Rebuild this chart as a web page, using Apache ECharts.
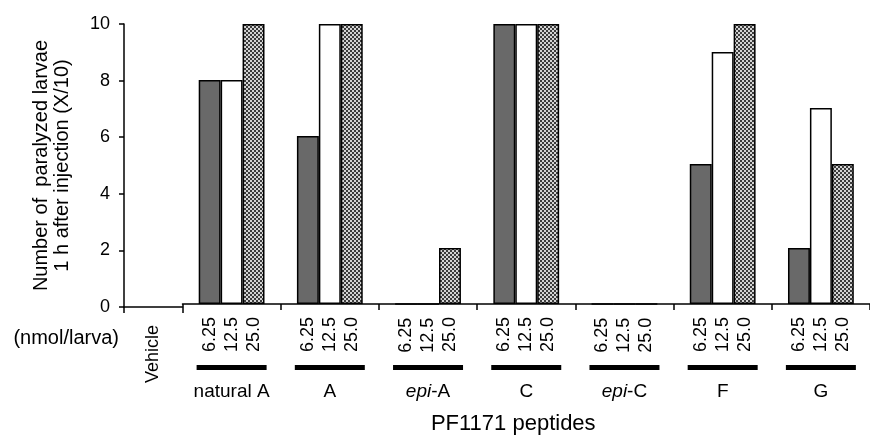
<!DOCTYPE html>
<html>
<head>
<meta charset="utf-8">
<script src="https://cdn.jsdelivr.net/npm/echarts@6/dist/echarts.min.js"></script>
<style>
  html, body { margin: 0; padding: 0; background: #fff; }
  #chart { width: 870px; height: 440px; }
</style>
</head>
<body>
<div id="chart"></div>
<script>
// 数据
let groups = ['natural A', 'A', 'epi-A', 'C', 'epi-C', 'F', 'G']
let doses = ['6.25', '12.5', '25.0']
let dose625 = [8, 6, 0, 10, 0, 5, 2]
let dose125 = [8, 10, 0, 10, 0, 9, 7]
let dose250 = [10, 10, 2, 10, 0, 10, 5]
let yTicks = [0, 2, 4, 6, 8, 10]

let font = 'Liberation Sans, Arial, Helvetica, sans-serif'

// 网格填充（25.0 的那组）
function makeHatch() {
  let c = document.createElement('canvas')
  c.width = 4
  c.height = 4
  let ctx = c.getContext('2d')
  ctx.fillStyle = '#d4d4d4'
  ctx.fillRect(0, 0, 4, 4)
  ctx.fillStyle = '#3c3c3c'
  ctx.fillRect(0, 0, 2, 2)
  ctx.fillRect(2, 2, 2, 2)
  return c
}
let hatch = { image: makeHatch(), repeat: 'repeat' }

function doseSeries(name, data, color) {
  return {
    name: name,
    type: 'bar',
    xAxisIndex: 1,
    yAxisIndex: 1,
    barGap: '0%',
    barCategoryGap: '33%',
    itemStyle: { color: color, borderColor: '#000', borderWidth: 1.5 },
    label: {
      show: true,
      position: 'bottom',
      distance: 13,
      rotate: 90,
      align: 'right',
      verticalAlign: 'middle',
      formatter: name,
      fontFamily: font,
      fontSize: 18,
      color: '#000'
    },
    data: data
  }
}

let axisLine = { show: true, lineStyle: { color: '#000', width: 1.5 } }
let axisTick = { show: true, length: 6, lineStyle: { color: '#000', width: 1.5 } }

let option = {
  animation: false,
  grid: [
    { left: 124, top: 24, width: 58.5, height: 283 },
    { left: 182.5, top: 24, width: 696.5, height: 283 }
  ],
  xAxis: [
    {
      gridIndex: 0,
      type: 'category',
      data: ['Vehicle'],
      axisLine: axisLine,
      axisTick: axisTick,
      axisLabel: { rotate: 90, margin: 18, fontFamily: font, fontSize: 18, color: '#000' }
    },
    {
      gridIndex: 1,
      type: 'category',
      data: groups,
      axisLine: axisLine,
      axisTick: axisTick,
      axisLabel: {
        margin: 61,
        interval: 0,
        formatter: function (v) {
          let txt = v.indexOf('epi-') === 0 ? '{i|epi}{t|' + v.slice(3) + '}' : '{t|' + v + '}'
          return '{bar| }\n' + txt
        },
        rich: {
          bar: { width: 70, height: 5, lineHeight: 5, backgroundColor: '#000' },
          t: { fontFamily: font, fontSize: 19, lineHeight: 44, color: '#000' },
          i: { fontFamily: font, fontSize: 19, lineHeight: 44, fontStyle: 'italic', color: '#000' }
        }
      },
      name: 'PF1171 peptides',
      nameLocation: 'middle',
      nameGap: 109,
      nameTextStyle: { fontFamily: font, fontSize: 22, color: '#000', padding: [0, 26, 0, 0] }
    }
  ],
  yAxis: [
    {
      gridIndex: 0,
      type: 'value',
      min: yTicks[0],
      max: yTicks[yTicks.length - 1],
      interval: yTicks[1] - yTicks[0],
      axisLine: axisLine,
      axisTick: { show: true, length: 5, lineStyle: { color: '#000', width: 1.5 } },
      splitLine: { show: false },
      axisLabel: { margin: 14, fontFamily: font, fontSize: 18, color: '#000' },
      name: 'Number of  paralyzed larvae\n1 h after injection (X/10)',
      nameLocation: 'middle',
      nameRotate: 90,
      nameGap: 51,
      nameTextStyle: { fontFamily: font, fontSize: 20, lineHeight: 21, color: '#000' }
    },
    {
      gridIndex: 1,
      type: 'value',
      min: yTicks[0],
      max: yTicks[yTicks.length - 1],
      interval: yTicks[1] - yTicks[0],
      show: false
    }
  ],
  graphic: [
    {
      type: 'text',
      x: 119,
      y: 338,
      style: {
        text: '(nmol/larva)',
        font: '20px ' + font,
        fill: '#000',
        align: 'right',
        verticalAlign: 'middle',
        textAlign: 'right',
        textVerticalAlign: 'middle'
      }
    }
  ],
  series: [
    doseSeries(doses[0], dose625, '#696969'),
    doseSeries(doses[1], dose125, '#ffffff'),
    doseSeries(doses[2], dose250, hatch)
  ]
}

let myChart = echarts.init(document.getElementById('chart'))
myChart.setOption(option)
</script>
</body>
</html>
